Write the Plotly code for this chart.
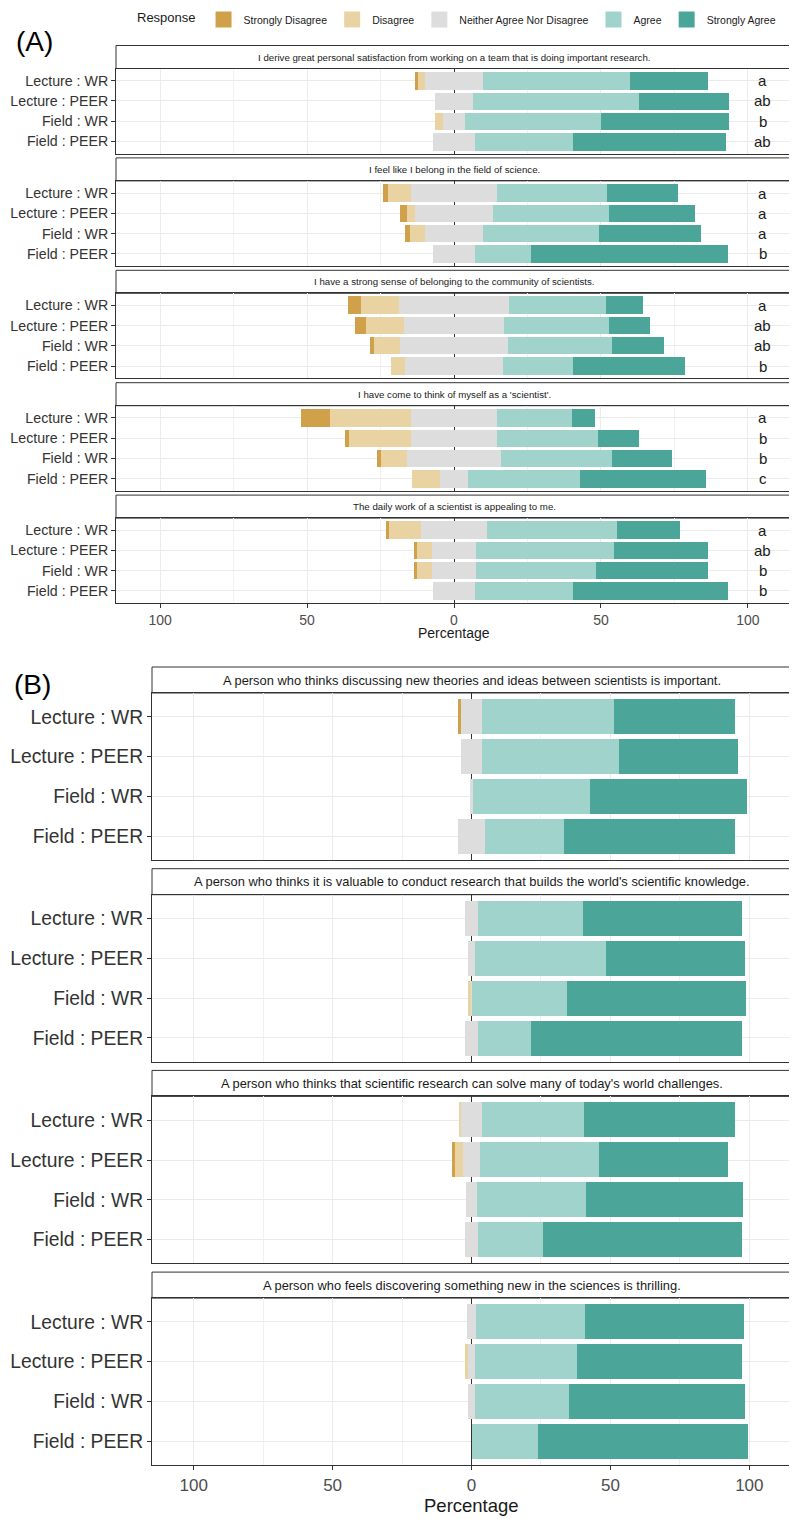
"""Likert diverging bar chart: science identity (A) and science values (B)."""

import plotly.graph_objects as go

PAGE_W, PAGE_H = 797, 1519
OFF = 8  # default body margin of the html page
W, H = PAGE_W - OFF, PAGE_H - OFF
FONT = "Liberation Sans, Arial, sans-serif"
BORDER = "#333333"
GRID = "#EBEBEB"

GROUPS = ["Lecture : WR", "Lecture : PEER", "Field : WR", "Field : PEER"]
RESPONSES = ["Strongly Disagree", "Disagree", "Neither Agree Nor Disagree",
             "Agree", "Strongly Agree"]
COLORS = ["#D1A04B", "#E9D3A3", "#DDDDDD", "#A0D3CB", "#4BA699"]

# ── Panel A: science identity items ───────────────────────────────
A_ITEMS = [
    "I derive great personal satisfaction from working on a team that is doing important research.",
    "I feel like I belong in the field of science.",
    "I have a strong sense of belonging to the community of scientists.",
    "I have come to think of myself as a 'scientist'.",
    "The daily work of a scientist is appealing to me.",
]
A_SD = [[1.1, 0, 0, 0], [1.7, 2.3, 1.5, 0], [4.3, 3.8, 1.4, 0],
        [9.6, 1.4, 1.3, 0], [0.6, 1.2, 1.2, 0]]
A_D = [[2.4, 0, 2.6, 0], [7.9, 2.6, 5.1, 0], [12.9, 12.8, 8.9, 4.9],
       [27.7, 21.3, 8.9, 9.5], [11.1, 4.9, 4.9, 0]]
A_N = [[19.4, 12.8, 7.6, 14.4], [29.2, 26.8, 20.0, 14.4], [37.6, 34.2, 36.6, 33.4],
       [29.2, 29.0, 31.8, 9.6], [22.6, 15.2, 15.2, 14.4]]
A_A = [[50.2, 56.4, 46.2, 33.2], [37.5, 39.4, 39.5, 19.1], [32.9, 35.6, 35.6, 23.9],
       [25.7, 34.5, 38.0, 38.0], [44.0, 47.0, 40.6, 33.4]]
A_SA = [[26.6, 30.6, 43.4, 52.2], [24.0, 29.1, 34.4, 66.9], [12.5, 14.0, 17.5, 38.1],
        [7.8, 13.9, 20.1, 43.1], [21.7, 31.7, 38.1, 52.6]]
A_LETTERS = [["a", "ab", "b", "ab"], ["a", "a", "a", "b"], ["a", "ab", "ab", "b"],
             ["a", "b", "b", "c"], ["a", "ab", "b", "b"]]

# ── Panel B: science values items ─────────────────────────────────
B_ITEMS = [
    "A person who thinks discussing new theories and ideas between scientists is important.",
    "A person who thinks it is valuable to conduct research that builds the world's scientific knowledge.",
    "A person who thinks that scientific research can solve many of today's world challenges.",
    "A person who feels discovering something new in the sciences is thrilling.",
]
B_SD = [[0.8, 0, 0, 0], [0, 0, 0, 0], [0, 1.3, 0, 0], [0, 0, 0, 0]]
B_D = [[0, 0, 0, 0], [0, 0, 1.0, 0], [0.7, 3.0, 0, 0], [0, 1.1, 0, 0]]
B_N = [[7.9, 7.6, 1.4, 9.4], [5.0, 2.6, 0.4, 4.8], [7.9, 5.8, 4.0, 4.8], [3.0, 2.6, 2.8, 0]]
B_A = [[47.2, 49.2, 41.8, 28.7], [37.5, 47.0, 34.2, 19.1], [36.4, 43.1, 39.2, 23.5],
       [39.3, 36.6, 33.7, 23.9]]
B_SA = [[43.8, 42.9, 56.8, 61.6], [57.2, 50.0, 64.4, 75.7], [54.6, 46.5, 56.6, 71.3],
        [57.4, 59.3, 63.2, 75.7]]

TICKVALS = [-100, -50, 0, 50, 100]
TICKTEXT = ["100", "50", "0", "50", "100"]


def px_x(p):
    return (p - OFF) / W


def px_y(p):
    return 1 - (p - OFF) / H


fig = go.Figure()
layout = {}
annotations = []
shapes = []


def note(text, x, y, size, xref="paper", yref="paper", xanchor="center", color="#1a1a1a"):
    annotations.append(dict(
        text=text, xref=xref, yref=yref, x=x, y=y, xanchor=xanchor, yanchor="middle",
        showarrow=False, font=dict(size=size, color=color),
    ))


def add_facet(n, item, sd, d, neu, agr, sagr, dom, top, strip_h, plot_h,
              bar_w, sizes, bottom, letters=None):
    xa, ya = ("x", "y") if n == 1 else (f"x{n}", f"y{n}")
    half = [v / 2 for v in neu]
    # relative stacking: negatives grow left from 0 in trace order
    parts = [
        ([-v for v in half], COLORS[2]),
        (half, COLORS[2]),
        ([-v for v in d], COLORS[1]),
        (agr, COLORS[3]),
        ([-v for v in sd], COLORS[0]),
        (sagr, COLORS[4]),
    ]
    for vals, col in parts:
        fig.add_trace(go.Bar(
            x=vals, y=GROUPS, orientation="h", width=bar_w,
            marker=dict(color=col, line=dict(width=0)),
            xaxis=xa, yaxis=ya, showlegend=False, hoverinfo="skip",
        ))

    y_top = top + strip_h
    layout["xaxis" if n == 1 else f"xaxis{n}"] = dict(
        domain=[px_x(dom[0]), px_x(dom[1])], anchor=ya, automargin=False,
        range=[-115, 115], tickvals=TICKVALS, ticktext=TICKTEXT,
        showgrid=True, gridcolor=GRID, gridwidth=1,
        minor=dict(tickvals=[-75, -25, 25, 75], showgrid=True,
                   gridcolor="#F1F1F1", gridwidth=0.7),
        zeroline=True, zerolinecolor=BORDER, zerolinewidth=1,
        showline=True, mirror=True, linecolor=BORDER, linewidth=1,
        showticklabels=bottom, ticks="outside" if bottom else "",
        ticklen=4, tickcolor=BORDER,
        tickfont=dict(size=sizes["xtick"], color="#4d4d4d"),
    )
    layout["yaxis" if n == 1 else f"yaxis{n}"] = dict(
        domain=[px_y(y_top + plot_h), px_y(y_top)], anchor=xa, automargin=False,
        type="category", categoryorder="array", categoryarray=GROUPS,
        range=[3.6, -0.6], showgrid=True, gridcolor=GRID, gridwidth=1,
        zeroline=False, showline=True, mirror=True, linecolor=BORDER, linewidth=1,
        ticks="outside", ticklen=4, tickcolor=BORDER,
        tickfont=dict(size=sizes["ytick"], color="#333333"),
    )
    shapes.append(dict(
        type="rect", xref="paper", yref="paper",
        x0=px_x(dom[0]), x1=px_x(dom[1]), y0=px_y(y_top), y1=px_y(top),
        line=dict(color=BORDER, width=1), fillcolor="white", layer="below",
    ))
    note(item, px_x((dom[0] + dom[1]) / 2), px_y(top + strip_h / 2), sizes["strip"])
    if letters:
        for g, lab in zip(GROUPS, letters):
            note(lab, 105, g, sizes["letter"], xref=xa, yref=ya)
    if bottom:
        note("Percentage", px_x((dom[0] + dom[1]) / 2),
             px_y(y_top + plot_h + sizes["title_off"]), sizes["title"])


A_SIZES = dict(xtick=14, ytick=14.2, strip=9.7, letter=15, title=14, title_off=30)
B_SIZES = dict(xtick=17, ytick=19.3, strip=12.9, letter=15, title=18.5, title_off=40)

n = 1
for i, item in enumerate(A_ITEMS):
    add_facet(n, item, A_SD[i], A_D[i], A_N[i], A_A[i], A_SA[i],
              dom=(116, 792), top=45.5 + i * 112.4, strip_h=23, plot_h=85,
              bar_w=0.86, sizes=A_SIZES, bottom=(i == len(A_ITEMS) - 1),
              letters=A_LETTERS[i])
    n += 1
for i, item in enumerate(B_ITEMS):
    add_facet(n, item, B_SD[i], B_D[i], B_N[i], B_A[i], B_SA[i],
              dom=(152, 791), top=667 + i * 201.7, strip_h=26, plot_h=167,
              bar_w=0.88, sizes=B_SIZES, bottom=(i == len(B_ITEMS) - 1))
    n += 1

# legend swatches
for resp, col in zip(RESPONSES, COLORS):
    fig.add_trace(go.Scatter(
        x=[None], y=[None], mode="markers", name=resp,
        marker=dict(symbol="square", size=16, color=col, line=dict(width=0)),
        xaxis="x", yaxis="y", showlegend=True,
    ))

note("(A)", px_x(14), px_y(41), 28, xanchor="left", color="black")
note("(B)", px_x(12), px_y(684), 28, xanchor="left", color="black")

fig.update_layout(
    width=W, height=H, margin=dict(l=0, r=0, t=0, b=0, autoexpand=False),
    paper_bgcolor="white", plot_bgcolor="white",
    font=dict(family=FONT, color="#1a1a1a"),
    barmode="relative", bargap=0,
    showlegend=True,
    legend=dict(
        orientation="h", x=px_x(458), xanchor="center", y=px_y(5), yanchor="top",
        title=dict(text="Response", side="left", font=dict(size=13)),
        font=dict(size=10.5), bgcolor="rgba(0,0,0,0)", itemclick=False,
    ),
    shapes=shapes, annotations=annotations, **layout,
)

fig.write_html("out.html")
